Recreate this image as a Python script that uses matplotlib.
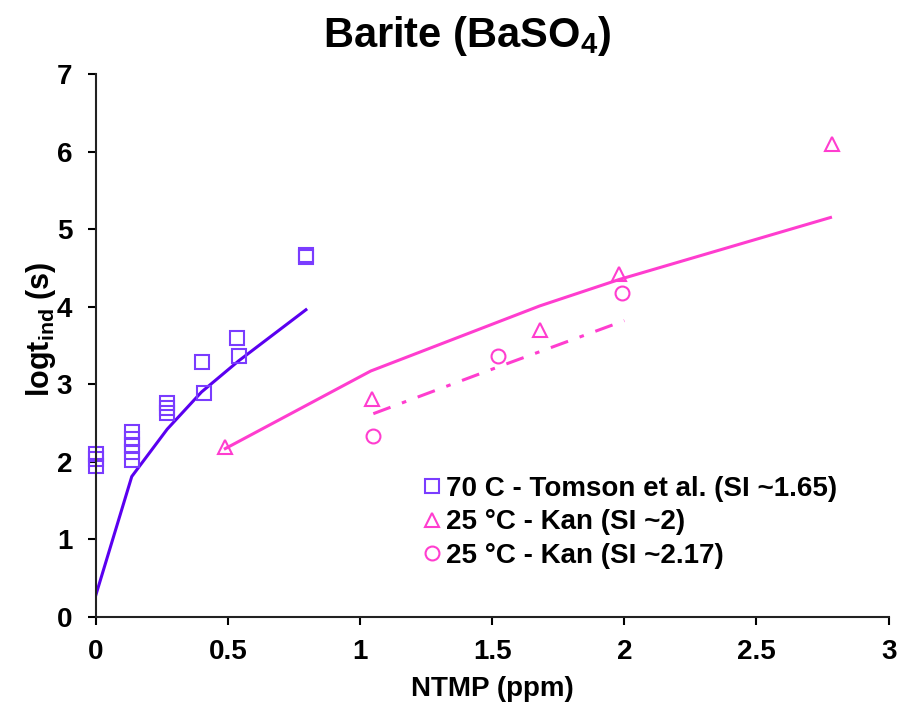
import matplotlib.pyplot as plt

plt.rcParams['font.family'] = ['Liberation Sans', 'DejaVu Sans']
plt.rcParams['font.weight'] = 'bold'
plt.rcParams['mathtext.fontset'] = 'custom'
plt.rcParams['mathtext.rm'] = 'Liberation Sans:bold'
plt.rcParams['mathtext.it'] = 'Liberation Sans:bold'
plt.rcParams['mathtext.bf'] = 'Liberation Sans:bold'

# 70 C - Tomson et al. (squares)
tomson_x = [0, 0, 0, 0.136, 0.136, 0.136, 0.136, 0.136, 0.27, 0.27, 0.27,
            0.40, 0.41, 0.535, 0.54, 0.795, 0.795]
tomson_y = [2.10, 2.03, 1.95, 2.39, 2.30, 2.22, 2.12, 2.02, 2.76, 2.69, 2.63,
            3.29, 2.89, 3.59, 3.37, 4.67, 4.64]
tomson_fit_x = [0, 0.136, 0.27, 0.40, 0.54, 0.795]
tomson_fit_y = [0.28, 1.81, 2.42, 2.90, 3.30, 3.96]

# 25 C - Kan SI ~2 (triangles)
kan2_x = [0.49, 1.045, 1.68, 1.98, 2.785]
kan2_y = [2.19, 2.81, 3.70, 4.42, 6.10]
kan2_fit_x = [0.49, 1.04, 1.68, 1.98, 2.78]
kan2_fit_y = [2.17, 3.17, 4.01, 4.35, 5.15]

# 25 C - Kan SI ~2.17 (circles)
kan217_x = [1.05, 1.52, 1.99]
kan217_y = [2.33, 3.36, 4.18]
kan217_fit_x = [1.05, 1.52, 2.0]
kan217_fit_y = [2.62, 3.22, 3.82]

purple_line = '#5a00f0'
purple_mk = '#7a3cff'
pink = '#ff3dcf'

fig = plt.figure(figsize=(9.04, 7.05), dpi=100)
ax = fig.add_axes([0.106, 0.125, 0.877, 0.77])

ax.plot(tomson_fit_x, tomson_fit_y, '-', color=purple_line, lw=2.2)
ax.plot(kan2_fit_x, kan2_fit_y, '-', color=pink, lw=2.2)
ax.plot(kan217_fit_x, kan217_fit_y, color=pink, lw=2.2, dashes=[6, 4, 1.5, 4])

ax.plot(tomson_x, tomson_y, 's', mfc='none', mec=purple_mk, ms=10, mew=1.5,
        ls='none', clip_on=False, label='70 C - Tomson et al. (SI ~1.65)')
ax.plot(kan2_x, kan2_y, '^', mfc='none', mec=pink, ms=10, mew=1.5,
        ls='none', clip_on=False, label='25 °C - Kan (SI ~2)')
ax.plot(kan217_x, kan217_y, 'o', mfc='none', mec=pink, ms=10, mew=1.5,
        ls='none', clip_on=False, label='25 °C - Kan (SI ~2.17)')

ax.set_xlim(0, 3)
ax.set_ylim(0, 7)
ax.set_xticks([0, 0.5, 1, 1.5, 2, 2.5, 3])
ax.set_xticklabels(['0', '0.5', '1', '1.5', '2', '2.5', '3'])
ax.set_yticks(range(8))
for s in ['top', 'right']:
    ax.spines[s].set_visible(False)
for s in ['left', 'bottom']:
    ax.spines[s].set_linewidth(1.5)
    ax.spines[s].set_color('#222222')
ax.tick_params(axis='both', direction='out', length=6, width=1.5,
               labelsize=20)
ax.tick_params(axis='x', pad=10)
ax.tick_params(axis='y', pad=11)

ax.set_xlabel('NTMP (ppm)', fontsize=20, fontweight='bold', labelpad=8)
ax.set_ylabel(r'logt$_{ind}$ (s)', fontsize=22, fontweight='bold')
ax.yaxis.set_label_coords(-0.048, 0.53)
fig.text(0.517, 0.98, r'Barite (BaSO$_4$)', fontsize=30, fontweight='bold',
         ha='center', va='top')

ax.legend(loc='center left', bbox_to_anchor=(0.469, 0.259),
          bbox_transform=fig.transFigure, frameon=False,
          fontsize=20, handletextpad=0.2, handlelength=0.6, markerscale=1.0,
          labelspacing=0.28, borderaxespad=0, borderpad=0)

fig.savefig('out.png', dpi=100)
